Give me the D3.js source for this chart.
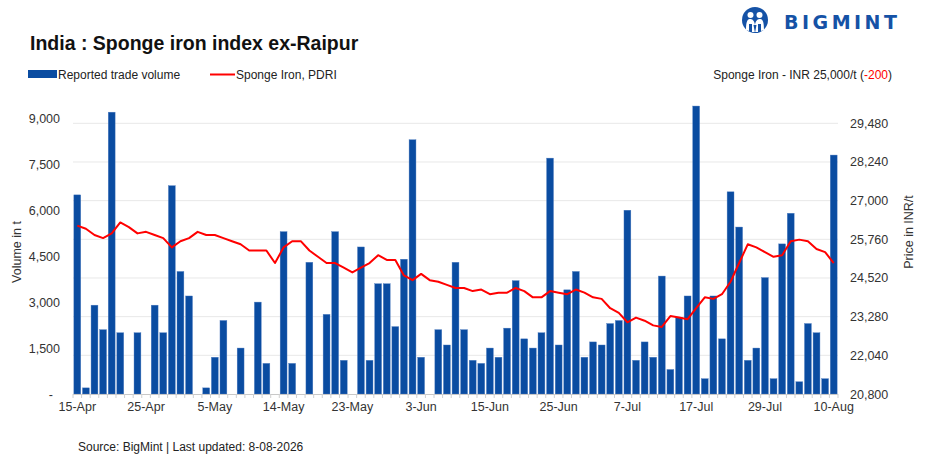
<!DOCTYPE html>
<html>
<head>
<meta charset="utf-8">
<script src="https://cdn.jsdelivr.net/npm/d3@7"></script>
<style>
  html, body { margin: 0; padding: 0; background: #fff; }
  svg { display: block; font-family: "Liberation Sans", Arial, sans-serif; }
</style>
</head>
<body>
<svg id="chart" width="945" height="467"></svg>
<script>
const categories = [
  "15-Apr","16-Apr","17-Apr","18-Apr","20-Apr","21-Apr","22-Apr","23-Apr","25-Apr","27-Apr",
  "28-Apr","29-Apr","30-Apr","1-May","2-May","4-May","5-May","6-May","7-May","8-May",
  "9-May","11-May","12-May","13-May","14-May","15-May","16-May","18-May","19-May","20-May",
  "21-May","22-May","23-May","25-May","26-May","27-May","28-May","29-May","30-May","2-Jun",
  "3-Jun","4-Jun","5-Jun","6-Jun","8-Jun","9-Jun","10-Jun","12-Jun","15-Jun","16-Jun",
  "17-Jun","18-Jun","19-Jun","20-Jun","22-Jun","23-Jun","25-Jun","26-Jun","27-Jun","29-Jun",
  "30-Jun","1-Jul","2-Jul","4-Jul","7-Jul","8-Jul","9-Jul","10-Jul","11-Jul","13-Jul",
  "14-Jul","16-Jul","17-Jul","18-Jul","20-Jul","21-Jul","22-Jul","24-Jul","25-Jul","28-Jul",
  "29-Jul","30-Jul","31-Jul","1-Aug","3-Aug","4-Aug","6-Aug","7-Aug","10-Aug"
];

const volume = [
  6500, 200, 2900, 2100, 9200, 2000, 0, 2000, 0, 2900,
  2000, 6800, 4000, 3200, 0, 200, 1200, 2400, 0, 1500,
  0, 3000, 1000, 0, 5300, 1000, 0, 4300, 0, 2600,
  5300, 1100, 0, 4800, 1100, 3600, 3600, 2200, 4400, 8300,
  1200, 0, 2100, 1600, 4300, 2100, 1100, 1000, 1500, 1200,
  2150, 3700, 1800, 1500, 2000, 7700, 1600, 3400, 4000, 1200,
  1700, 1600, 2300, 2400, 6000, 1100, 1700, 1200, 3850, 800,
  2500, 3200, 9400, 500, 3200, 1800, 6600, 5450, 1100, 1500,
  3800, 500, 4900, 5900, 400, 2300, 2000, 500, 7800
];

const price = [
  26200, 26100, 25900, 25800, 25950, 26300, 26150, 25950, 26000, 25900,
  25800, 25500, 25700, 25800, 26000, 25900, 25900, 25800, 25700, 25600,
  25400, 25400, 25400, 25000, 25500, 25700, 25700, 25400, 25200, 25000,
  25000, 24850, 24700, 24850, 25000, 25250, 25100, 25100, 24600, 24450,
  24650, 24450, 24400, 24300, 24200, 24200, 24100, 24150, 24000, 24050,
  24050, 24200, 24100, 23900, 23900, 24100, 24050, 24000, 24150, 24050,
  23900, 23850, 23550, 23400, 23100, 23250, 23150, 23000, 22950, 23300,
  23250, 23200, 23550, 23900, 23850, 24000, 24400, 25000, 25600, 25500,
  25350, 25200, 25250, 25700, 25750, 25700, 25450, 25350, 25000
];

const xTickLabels = ["15-Apr","25-Apr","5-May","14-May","23-May","3-Jun","15-Jun","25-Jun","7-Jul","17-Jul","29-Jul","10-Aug"];
const leftTicks = [0, 1500, 3000, 4500, 6000, 7500, 9000];
const rightTicks = [20800, 22040, 23280, 24520, 25760, 27000, 28240, 29480];

const svg = d3.select("#chart");
svg.append("rect").attr("width", 945).attr("height", 467).attr("fill", "#fff");

const plotL = 73, plotR = 838, baseY = 394;
const x = d3.scaleBand().domain(categories).range([plotL, plotR]).paddingInner(0.2).paddingOuter(0.1);
const yL = d3.scaleLinear().domain([0, 9000]).range([baseY, 118.3]);
const yR = d3.scaleLinear().domain([20800, 29480]).range([baseY, 123.3]);

// gridlines (right axis)
svg.append("g").selectAll("line").data(rightTicks.slice(1)).join("line")
  .attr("x1", plotL).attr("x2", plotR)
  .attr("y1", d => yR(d)).attr("y2", d => yR(d))
  .attr("stroke", "#e8e8e8").attr("stroke-width", 1);

// bars
svg.append("g").selectAll("rect").data(categories.map((c, i) => ({c, v: volume[i]})).filter(d => d.v > 0)).join("rect")
  .attr("x", d => x(d.c)).attr("width", x.bandwidth())
  .attr("y", d => yL(d.v)).attr("height", d => baseY - yL(d.v))
  .attr("fill", "#0a4ca1").attr("stroke", "#4f7dc0").attr("stroke-width", 0.4);

// x axis line + boundary ticks
const step = x.step();
const xg = svg.append("g");
xg.append("line").attr("x1", plotL).attr("x2", plotR).attr("y1", baseY + 0.5).attr("y2", baseY + 0.5)
  .attr("stroke", "#c8c8c8").attr("stroke-width", 1);
const bounds = categories.map(c => x(c) - step * 0.1).concat([plotR]);
xg.selectAll("line.tk").data(bounds).join("line").attr("class", "tk")
  .attr("x1", d => d).attr("x2", d => d).attr("y1", baseY).attr("y2", baseY + 4)
  .attr("stroke", "#d0d0d0").attr("stroke-width", 1);

const xAxis = d3.axisBottom(x).tickValues(xTickLabels).tickSize(0).tickPadding(8);
const xa = svg.append("g").attr("transform", `translate(0,${baseY})`).call(xAxis);
xa.select(".domain").remove();
xa.selectAll("text").attr("font-size", 12.5).attr("fill", "#333").attr("font-family", "Liberation Sans, Arial, sans-serif");

// left axis
const la = svg.append("g").attr("transform", `translate(62,0)`)
  .call(d3.axisLeft(yL).tickValues(leftTicks).tickSize(0).tickPadding(2).tickFormat(d => d === 0 ? "-" : d3.format(",")(d)));
la.select(".domain").remove();
la.selectAll("text").attr("font-size", 12.5).attr("fill", "#333").attr("font-family", "Liberation Sans, Arial, sans-serif");
la.selectAll(".tick").filter(d => d === 0).select("text").attr("dx", -7);

// right axis
const ra = svg.append("g").attr("transform", `translate(848,0)`)
  .call(d3.axisRight(yR).tickValues(rightTicks).tickSize(0).tickPadding(2).tickFormat(d3.format(",")));
ra.select(".domain").remove();
ra.selectAll("text").attr("font-size", 12.5).attr("fill", "#333").attr("font-family", "Liberation Sans, Arial, sans-serif");

// price line
const line = d3.line().x((d, i) => x(categories[i]) + x.bandwidth() / 2).y(d => yR(d));
svg.append("path").datum(price).attr("d", line)
  .attr("fill", "none").attr("stroke", "#ff0000").attr("stroke-width", 2).attr("stroke-linejoin", "round");

// axis titles
svg.append("text").attr("transform", "translate(21,252) rotate(-90)").attr("text-anchor", "middle")
  .attr("font-size", 12.5).attr("fill", "#333").text("Volume in t");
svg.append("text").attr("transform", "translate(913,232) rotate(-90)").attr("text-anchor", "middle")
  .attr("font-size", 12.5).attr("fill", "#333").text("Price in INR/t");

// title
svg.append("text").attr("x", 30).attr("y", 50).attr("font-size", 19.5).attr("font-weight", "bold")
  .attr("fill", "#111").text("India : Sponge iron index ex-Raipur");

// legend
svg.append("rect").attr("x", 28).attr("y", 70).attr("width", 29).attr("height", 8).attr("fill", "#0a4ca1");
svg.append("text").attr("x", 58).attr("y", 79).attr("font-size", 12).attr("fill", "#222").text("Reported trade volume");
svg.append("line").attr("x1", 210).attr("x2", 235).attr("y1", 74.5).attr("y2", 74.5).attr("stroke", "#ff0000").attr("stroke-width", 2);
svg.append("text").attr("x", 236).attr("y", 79).attr("font-size", 12).attr("fill", "#222").text("Sponge Iron, PDRI");

const hdr = svg.append("text").attr("x", 892).attr("y", 79).attr("text-anchor", "end").attr("font-size", 12).attr("fill", "#222");
hdr.append("tspan").text("Sponge Iron - INR 25,000/t (");
hdr.append("tspan").attr("fill", "#ff0000").text("-200");
hdr.append("tspan").text(")");

// source
svg.append("text").attr("x", 78).attr("y", 451).attr("font-size", 12).attr("fill", "#222")
  .text("Source: BigMint | Last updated: 8-08-2026");

// logo
const logo = svg.append("g").attr("transform", "translate(755,20)");
logo.append("circle").attr("r", 13).attr("fill", "#1552a6");
logo.append("circle").attr("cx", -4.5).attr("cy", -5).attr("r", 3).attr("fill", "#fff");
logo.append("circle").attr("cx", 4.5).attr("cy", -5).attr("r", 3).attr("fill", "#fff");
logo.append("path").attr("d", "M-9,10 C-9,0 -7,-1 -4.5,-1 C-2,-1 0,2 0,6 C0,2 2,-1 4.5,-1 C7,-1 9,0 9,10 L6,11 L6,4 L3,4 L3,12 L-3,12 L-3,4 L-6,4 L-6,11 Z")
  .attr("fill", "#fff");
logo.append("path").attr("d", "M-1.5,5 L0,13 L1.5,5 Z").attr("fill", "#1552a6");
svg.append("text").attr("x", 784).attr("y", 29).attr("font-size", 19).attr("font-weight", "bold")
  .attr("letter-spacing", 3.5).attr("fill", "#1552a6").attr("font-family", "DejaVu Sans, sans-serif").text("BIGMINT");
</script>
</body>
</html>
